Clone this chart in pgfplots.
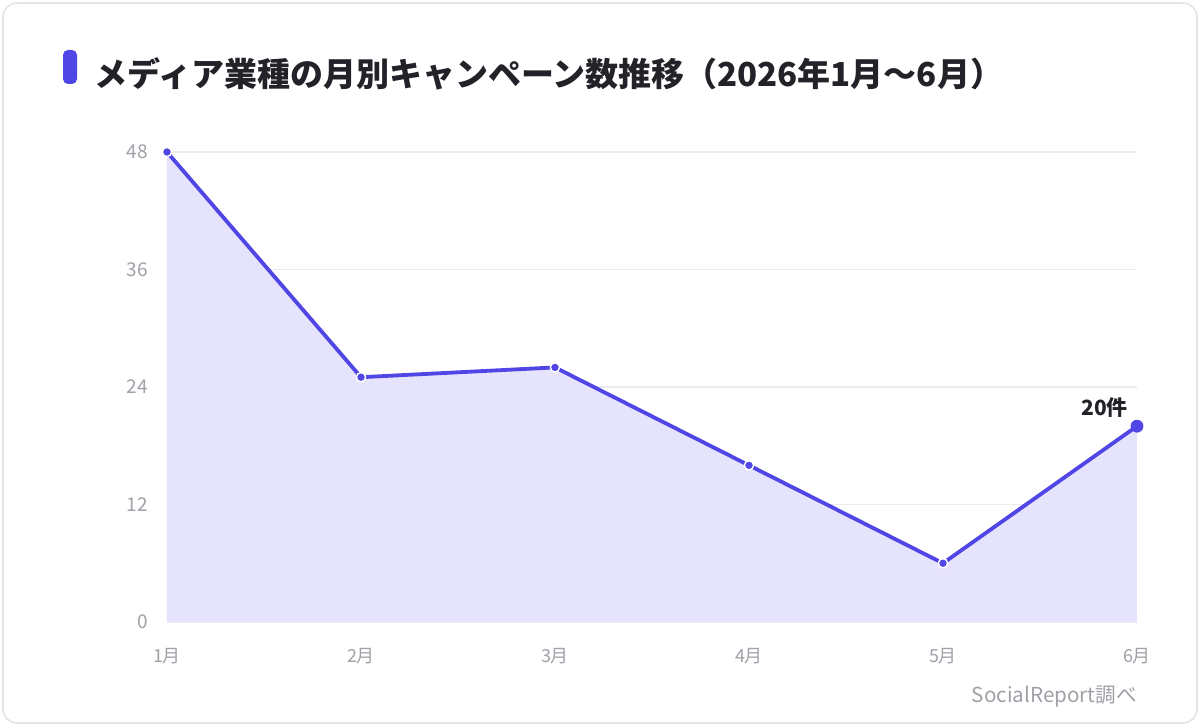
\documentclass[border=0pt]{standalone}
\usepackage{fontspec}
\setmainfont{Noto Sans CJK JP}
\usepackage{pgfplots}
\pgfplotsset{compat=1.18}

\definecolor{lineC}{RGB}{80,70,229}
\definecolor{fillC}{RGB}{230,227,252}
\definecolor{gridC}{RGB}{236,236,240}
\definecolor{tickC}{RGB}{160,160,168}
\definecolor{titleC}{RGB}{34,34,40}
\definecolor{cardC}{RGB}{228,228,234}

\begin{document}
\begin{tikzpicture}
% card, 1px = 0.5pt
\useasboundingbox (0,0) rectangle (600pt,-363pt);
\fill[white] (0,0) rectangle (600pt,-363pt);
\draw[cardC, line width=0.8pt, rounded corners=7pt] (1.5pt,-1.5pt) rectangle (598.5pt,-361.5pt);

% title
\fill[lineC, rounded corners=2.5pt] (31.5pt,-25pt) rectangle (38.5pt,-42pt);
\node[anchor=west, inner sep=0pt, text=titleC, font=\fontsize{16.5pt}{18pt}\selectfont\bfseries]
  at (47pt,-37pt) {メディア業種の月別キャンペーン数推移（2026年1月～6月）};

\begin{axis}[
  at={(83.5pt,-311pt)}, anchor=origin,
  scale only axis, width=485pt, height=235pt,
  xmin=0, xmax=5, ymin=0, ymax=48,
  axis line style={draw=none},
  xtick={0,1,2,3,4,5},
  xticklabels={1月,2月,3月,4月,5月,6月},
  ytick={0,12,24,36,48},
  major tick length=0pt,
  ymajorgrids, grid style={gridC, line width=0.6pt},
  tick label style={text=tickC},
  x tick label style={yshift=-9.5pt, font=\fontsize{9pt}{10pt}\selectfont},
  y tick label style={xshift=-6pt, font=\fontsize{9.5pt}{11pt}\selectfont},
  /pgf/number format/assume math mode=true,
  clip=false,
]
\addplot[fill=fillC, draw=none] coordinates {(0,48) (1,25) (2,26) (3,16) (4,6) (5,20)} \closedcycle;
\addplot[lineC, line width=1.9pt, mark=*, mark size=2.3pt,
  mark options={fill=lineC, draw=white, line width=0.7pt}]
  coordinates {(0,48) (1,25) (2,26) (3,16) (4,6) (5,20)};
\addplot[only marks, mark=*, mark size=3pt, mark options={fill=lineC, draw=lineC},
  nodes near coords={20件},
  every node near coord/.append style={anchor=south east, text=titleC,
    font=\fontsize{10.5pt}{12pt}\selectfont\bfseries, xshift=-1pt, yshift=1pt}]
  coordinates {(5,20)};
\end{axis}

% source note
\node[anchor=east, inner sep=0pt, text=tickC, font=\fontsize{10.3pt}{12pt}\selectfont]
  at (568.5pt,-348.5pt) {SocialReport調べ};
\end{tikzpicture}
\end{document}
